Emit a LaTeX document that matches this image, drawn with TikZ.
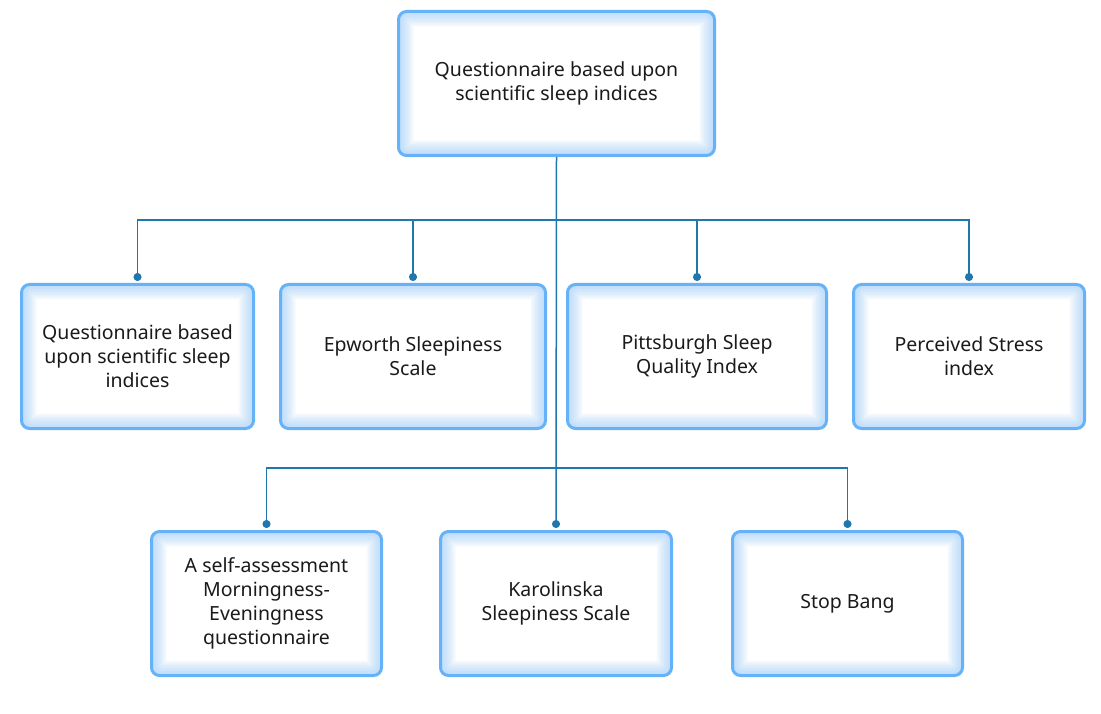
\documentclass[tikz,border=0pt]{standalone}
\usepackage{fontspec}
\setmainfont{Noto Sans}
\usetikzlibrary{arrows.meta, positioning, calc}
\definecolor{boxline}{HTML}{66B2F8}
\definecolor{boxglow}{HTML}{9ECDFB}
\definecolor{linkblue}{HTML}{1F77AD}
\definecolor{txt}{HTML}{1A1A1A}
\tikzset{
  base/.style = {
    draw=boxline, line width=3pt, minimum height=144pt,
    rounded corners=8pt, fill=white, text=txt, align=center,
    font=\fontsize{19.5}{24}\selectfont,
    path picture={
      \foreach \w in {3,6,...,30}
        \draw[boxglow, line width=\w pt, opacity=0.09, rounded corners=10pt]
          (path picture bounding box.south west) rectangle
          (path picture bounding box.north east);
    }
  },
  rootbox/.style = {base, minimum width=316pt},
  leafbox/.style = {base, minimum width=#1},
  link/.style = {
    draw=linkblue, line width=1.5pt, -{Circle[length=8pt]},
    shorten >=2pt
  }
}

\begin{document}
\begin{tikzpicture}[x=1pt, y=1pt, node distance = 126pt and 24pt]
  \useasboundingbox (0,0) rectangle (1101,-714);

  % Root
  \node[rootbox] (root) at (556.5,-83.5) {Questionnaire based upon\\scientific sleep indices};

  % Middle row (left to right)
  \node[leafbox=232pt] (indices) at (137.5,-356.5) {Questionnaire based\\upon scientific sleep\\indices};
  \node[leafbox=265pt, right=24pt of indices] (ess) {Epworth Sleepiness\\Scale};
  \node[leafbox=259pt, right=19pt of ess] (psqi) {Pittsburgh Sleep\\Quality Index};
  \node[leafbox=231pt, right=24pt of psqi] (pss) {Perceived Stress\\index};

  % Bottom row (left to right)
  \node[leafbox=230pt] (meq) at (266.5,-603.5) {A self-assessment\\Morningness-\\Eveningness\\questionnaire};
  \node[leafbox=231pt, right=56pt of meq] (kss) {Karolinska\\Sleepiness Scale};
  \node[leafbox=230pt, right=58pt of kss] (stopbang) {Stop Bang};

  % Bus lines
  \coordinate (bus1) at ($(root.south)!0.5!(root.south |- ess.north)$);
  \coordinate (bus2) at ($(root.south |- kss.north)+(0,62)$);

  % Trunk and middle row branches
  \draw[link] (root.south) -- (kss.north);
  \draw[link] (bus1) -| (indices.north);
  \draw[link] (bus1) -| (ess.north);
  \draw[link] (bus1) -| (psqi.north);
  \draw[link] (bus1) -| (pss.north);

  % Bottom row branches
  \draw[link] (bus2) -| (meq.north);
  \draw[link] (bus2) -| (stopbang.north);

\end{tikzpicture}
\end{document}
